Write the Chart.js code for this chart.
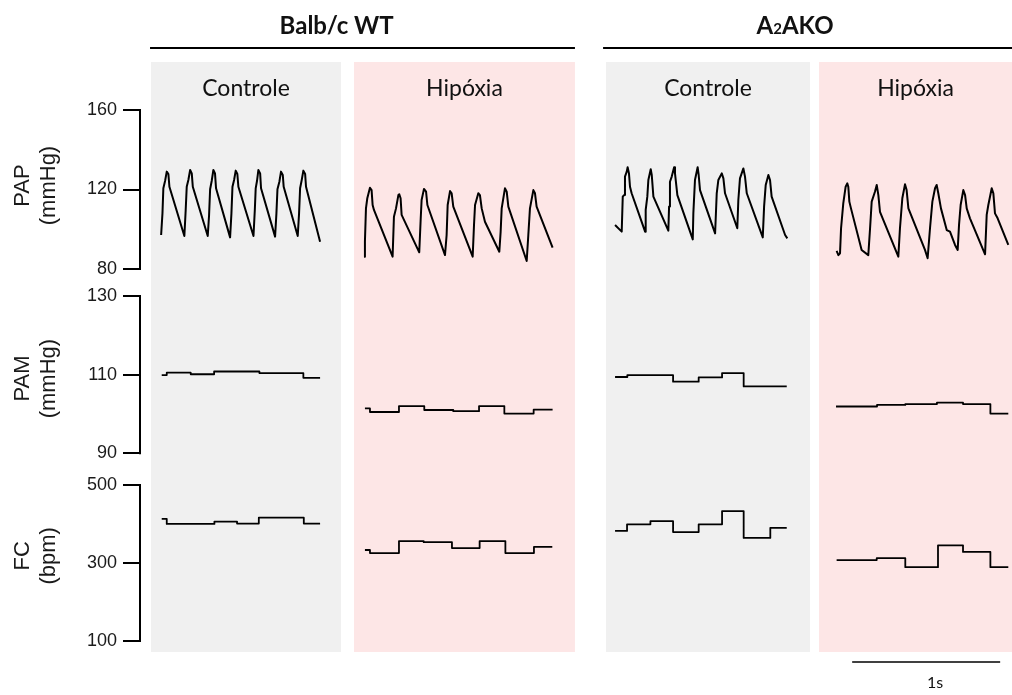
<!DOCTYPE html>
<html lang="pt">
<head>
  <meta charset="UTF-8">
  <title>PAP, PAM e FC - Balb/c WT e A2AKO</title>
  <script src="https://cdn.jsdelivr.net/npm/chart.js"></script>
  <style>
    html, body { margin: 0; background: #fff; }
    #wrap { width: 1012px; height: 695px; }
  </style>
</head>
<body>
  <div id="wrap"><canvas id="traces"></canvas></div>
  <script>
    // groups / conditions
    const groups = ['Balb/c WT', 'A\u2082AKO'];
    const conditions = ['Controle', 'Hipóxia', 'Controle', 'Hipóxia'];

    // tick values of the three rows
    const papTicks = [80, 120, 160];
    const pamTicks = [90, 110, 130];
    const fcTicks = [100, 300, 500];

    // PAP (mmHg), time in ms from the start of each window
    const papWtCtrlT = [68, 77, 83, 95, 106, 117, 124, 225, 234, 241, 252, 264, 275, 282, 383, 392, 399, 410, 421, 432, 439, 534, 543, 550, 561, 572, 583, 590, 692, 701, 707, 716, 725, 737, 743, 838, 847, 854, 867, 878, 890, 896, 991, 1000, 1007, 1018, 1029, 1041, 1047, 1142];
    const papWtCtrlV = [97.1, 108.0, 120.6, 124.4, 129.0, 127.8, 121.4, 96.6, 109.7, 121.4, 124.8, 129.8, 128.1, 121.4, 96.6, 107.2, 120.1, 124.4, 129.8, 128.1, 120.6, 95.9, 108.0, 121.4, 124.8, 129.5, 127.8, 121.4, 96.6, 109.7, 120.6, 124.4, 129.8, 128.1, 120.6, 96.3, 108.0, 120.1, 123.9, 129.0, 127.3, 121.4, 96.6, 108.0, 120.6, 124.8, 129.5, 127.8, 121.4, 93.7];

    const papWtHipT = [68, 74, 81, 90, 108, 119, 126, 135, 261, 270, 284, 300, 306, 315, 322, 333, 441, 451, 457, 473, 487, 496, 615, 626, 633, 649, 660, 671, 802, 811, 818, 840, 851, 863, 885, 982, 991, 998, 1020, 1032, 1043, 1167, 1178, 1189, 1212, 1223, 1234, 1342];
    const papWtHipV = [86.2, 93.8, 110.5, 115.6, 120.9, 119.7, 112.2, 109.7, 86.2, 106.3, 110.5, 117.2, 117.6, 115.6, 107.2, 105.5, 88.4, 105.5, 114.7, 120.3, 118.9, 112.2, 87.0, 97.1, 112.2, 119.2, 118.1, 111.4, 86.2, 102.1, 112.2, 118.1, 117.2, 110.5, 103.8, 88.7, 98.8, 110.5, 120.6, 118.9, 111.4, 84.0, 97.1, 110.5, 119.7, 118.1, 111.4, 90.7];

    const papKoCtrlT = [61, 106, 113, 122, 128, 140, 146, 155, 162, 173, 264, 268, 279, 286, 302, 309, 320, 421, 426, 432, 444, 460, 466, 482, 586, 590, 601, 619, 626, 635, 737, 748, 759, 782, 793, 804, 887, 894, 905, 928, 939, 951, 1059, 1068, 1079, 1097, 1108, 1119, 1210, 1225];
    const papKoCtrlV = [102.1, 98.8, 116.4, 117.2, 126.5, 129.0, 131.2, 128.1, 121.4, 118.1, 98.8, 109.7, 116.4, 124.8, 130.2, 127.3, 116.4, 99.3, 111.4, 123.9, 126.5, 131.2, 128.1, 117.2, 94.9, 108.0, 124.8, 131.2, 127.3, 119.7, 97.9, 118.1, 124.8, 128.1, 125.6, 118.1, 100.5, 114.7, 125.6, 130.6, 126.5, 118.1, 95.9, 111.4, 122.3, 127.3, 124.8, 116.4, 97.1, 95.4];

    const papKoHipT = [119, 131, 142, 149, 164, 180, 191, 198, 205, 216, 288, 333, 345, 356, 378, 390, 401, 412, 536, 547, 563, 581, 592, 604, 716, 734, 750, 766, 784, 795, 806, 824, 863, 885, 919, 937, 946, 957, 975, 987, 998, 1020, 1122, 1133, 1144, 1167, 1178, 1189, 1207, 1279];
    const papKoHipV = [89.1, 87.0, 87.9, 100.5, 113.0, 121.4, 123.1, 121.4, 113.9, 110.5, 89.6, 87.0, 100.5, 113.9, 118.9, 122.3, 117.2, 108.8, 86.2, 100.5, 115.6, 122.6, 119.7, 110.5, 89.6, 85.4, 100.5, 113.9, 120.6, 122.3, 118.1, 110.5, 99.6, 98.8, 92.1, 89.6, 102.1, 112.2, 119.7, 117.2, 110.5, 105.5, 87.4, 107.2, 112.2, 120.6, 118.1, 108.0, 105.5, 92.1];

    // PAM (mmHg), one value per step, last point closes the trace
    const pamWtCtrlT = [72, 106, 268, 426, 732, 1029, 1142];
    const pamWtCtrlV = [109.9, 110.5, 110.1, 110.8, 110.4, 109.2, 109.2];
    const pamWtHipT = [74, 108, 304, 475, 671, 845, 1016, 1214, 1342];
    const pamWtHipV = [101.4, 100.5, 102.0, 101.0, 100.7, 102.0, 100.1, 101.1, 101.1];
    const pamKoCtrlT = [61, 144, 453, 626, 784, 930, 1221];
    const pamKoCtrlV = [109.4, 109.9, 108.2, 109.3, 110.4, 107.0, 107.0];
    const pamKoHipT = [115, 392, 583, 797, 973, 1158, 1279];
    const pamKoHipV = [101.9, 102.3, 102.5, 102.9, 102.5, 100.1, 100.1];

    // FC (bpm)
    const fcWtCtrlT = [72, 106, 428, 581, 728, 1032, 1142];
    const fcWtCtrlV = [413, 400, 406, 401, 416, 401, 401];
    const fcWtHipT = [74, 108, 304, 471, 662, 849, 1023, 1216, 1340];
    const fcWtHipV = [333, 325, 356, 353, 338, 356, 325, 341, 341];
    const fcKoCtrlT = [61, 142, 300, 453, 626, 784, 930, 1110, 1221];
    const fcKoCtrlV = [382, 399, 407, 379, 399, 433, 364, 390, 390];
    const fcKoHipT = [119, 390, 583, 804, 973, 1158, 1279];
    const fcKoHipV = [307, 312, 289, 345, 328, 289, 289];

    // layout: recording windows on the shared time axis (ms)
    const windows = [
      { from: 68, to: 1351, fill: '#f0f0f0' },
      { from: 1439, to: 2932, fill: '#fde6e6' },
      { from: 3142, to: 4520, fill: '#f0f0f0' },
      { from: 4581, to: 5885, fill: '#fde6e6' }
    ];
    const headers = [
      { from: 61, to: 2932, at: 1322 },
      { from: 3122, to: 5885, at: 4419 }
    ];

    const axisFont = "'Liberation Sans', Arial, sans-serif";
    const textFont = "Lato, 'Open Sans', sans-serif";
    Chart.defaults.font.family = axisFont;

    const recordings = [
      { pap: [papWtCtrlT, papWtCtrlV], pam: [pamWtCtrlT, pamWtCtrlV], fc: [fcWtCtrlT, fcWtCtrlV] },
      { pap: [papWtHipT, papWtHipV], pam: [pamWtHipT, pamWtHipV], fc: [fcWtHipT, fcWtHipV] },
      { pap: [papKoCtrlT, papKoCtrlV], pam: [pamKoCtrlT, pamKoCtrlV], fc: [fcKoCtrlT, fcKoCtrlV] },
      { pap: [papKoHipT, papKoHipV], pam: [pamKoHipT, pamKoHipV], fc: [fcKoHipT, fcKoHipV] }
    ];

    function series(offset, times, values) {
      return times.map((t, i) => ({ x: offset + t, y: values[i] }));
    }

    const datasets = [];
    recordings.forEach((r, i) => {
      const off = windows[i].from;
      ['pap', 'pam', 'fc'].forEach(key => {
        datasets.push({
          yAxisID: key,
          data: series(off, r[key][0], r[key][1]),
          stepped: key !== 'pap',
          borderColor: '#000',
          borderWidth: key === 'pap' ? 2 : 1.8,
          borderJoinStyle: 'round',
          pointRadius: 0,
          fill: false,
          tension: 0
        });
      });
    });

    function yAxis(ticks, min, max, weight) {
      return {
        type: 'linear',
        position: 'left',
        stack: 'rows',
        stackWeight: weight,
        min: min,
        max: max,
        afterBuildTicks: s => { s.ticks = ticks.map(v => ({ value: v })); },
        afterFit: s => { s.width = 141; },
        ticks: { font: { size: 18 }, color: '#1a1a1a', padding: 6 },
        grid: { drawOnChartArea: false, drawTicks: true, tickLength: 18, lineWidth: 2, color: '#000' },
        border: { display: false }
      };
    }

    const rowTitles = {
      pap: { lines: ['PAP', '(mmHg)'], at: 122 },
      pam: { lines: ['PAM', '(mmHg)'], at: 109 },
      fc: { lines: ['FC', '(bpm)'], at: 318 }
    };

    const decor = {
      id: 'decor',
      beforeDatasetsDraw(chart) {
        const { ctx, chartArea: a, scales: { x } } = chart;
        windows.forEach(w => {
          const l = x.getPixelForValue(w.from);
          const r = x.getPixelForValue(w.to);
          ctx.fillStyle = w.fill;
          ctx.fillRect(l, a.top, r - l, a.bottom - a.top);
        });
      },
      afterDraw(chart) {
        const { ctx, scales } = chart;
        const x = scales.x;
        ctx.save();
        ctx.fillStyle = '#111';
        ctx.strokeStyle = '#000';
        ctx.textAlign = 'center';
        ctx.textBaseline = 'middle';

        // condition labels on each window
        ctx.font = `23px ${textFont}`;
        windows.forEach((w, i) => {
          const cx = (x.getPixelForValue(w.from) + x.getPixelForValue(w.to)) / 2;
          ctx.fillText(conditions[i], cx, 89);
        });

        // group headers and their rules
        headers.forEach((h, i) => {
          ctx.lineWidth = 2;
          ctx.beginPath();
          ctx.moveTo(x.getPixelForValue(h.from), 48);
          ctx.lineTo(x.getPixelForValue(h.to), 48);
          ctx.stroke();
          const cx = x.getPixelForValue(h.at);
          const big = `bold 24px ${textFont}`;
          const small = `bold 15px ${textFont}`;
          const parts = groups[i].split('\u2082');
          if (parts.length === 1) {
            ctx.font = big;
            ctx.fillText(groups[i], cx, 26);
          } else {
            // subscript 2 drawn smaller on the same baseline
            ctx.textAlign = 'left';
            ctx.textBaseline = 'alphabetic';
            ctx.font = big;
            const w0 = ctx.measureText(parts[0]).width;
            const w2 = ctx.measureText(parts[1]).width;
            ctx.font = small;
            const w1 = ctx.measureText('2').width;
            let px = cx - (w0 + w1 + w2) / 2;
            ctx.font = big;
            ctx.fillText(parts[0], px, 34);
            px += w0;
            ctx.font = small;
            ctx.fillText('2', px, 34);
            px += w1;
            ctx.font = big;
            ctx.fillText(parts[1], px, 34);
            ctx.textAlign = 'center';
            ctx.textBaseline = 'middle';
          }
        });

        // row axis lines and titles
        ['pap', 'pam', 'fc'].forEach(key => {
          const s = scales[key];
          const vals = s.ticks.map(t => t.value);
          const top = s.getPixelForValue(Math.max(...vals));
          const bottom = s.getPixelForValue(Math.min(...vals));
          ctx.lineWidth = 2;
          ctx.beginPath();
          ctx.moveTo(s.right - 1, top - 1);
          ctx.lineTo(s.right - 1, bottom + 1);
          ctx.stroke();

          const t = rowTitles[key];
          const cy = s.getPixelForValue(t.at);
          ctx.font = `22px ${axisFont}`;
          ctx.fillStyle = '#1a1a1a';
          [23, 49].forEach((lx, j) => {
            ctx.save();
            ctx.translate(lx, cy);
            ctx.rotate(-Math.PI / 2);
            ctx.fillText(t.lines[j], 0, 0);
            ctx.restore();
          });
        });

        // 1 s scale bar
        const barEnd = x.max - 80;
        const barStart = barEnd - 1000;
        const bx0 = x.getPixelForValue(barStart);
        const bx1 = x.getPixelForValue(barEnd);
        ctx.lineWidth = 1.5;
        ctx.beginPath();
        ctx.moveTo(bx0, 662);
        ctx.lineTo(bx1, 662);
        ctx.stroke();
        ctx.fillStyle = '#111';
        ctx.font = `16px ${textFont}`;
        ctx.fillText('1s', (bx0 + bx1) / 2 + 9, 683);
        ctx.restore();
      }
    };

    new Chart(document.getElementById('traces'), {
      type: 'line',
      data: { datasets },
      options: {
        responsive: true,
        maintainAspectRatio: false,
        animation: false,
        events: [],
        layout: { padding: { top: 62, bottom: 43, left: 0, right: 0 } },
        plugins: { legend: { display: false }, tooltip: { enabled: false } },
        scales: {
          x: { type: 'linear', min: 0, max: 5885, display: false },
          fc: yAxis(fcTicks, 70.95, 541.1, 183),
          pam: yAxis(pamTicks, 86.0, 133.56, 187),
          pap: yAxis(papTicks, 73.46, 184.15, 220)
        }
      },
      plugins: [decor]
    });
  </script>
</body>
</html>
